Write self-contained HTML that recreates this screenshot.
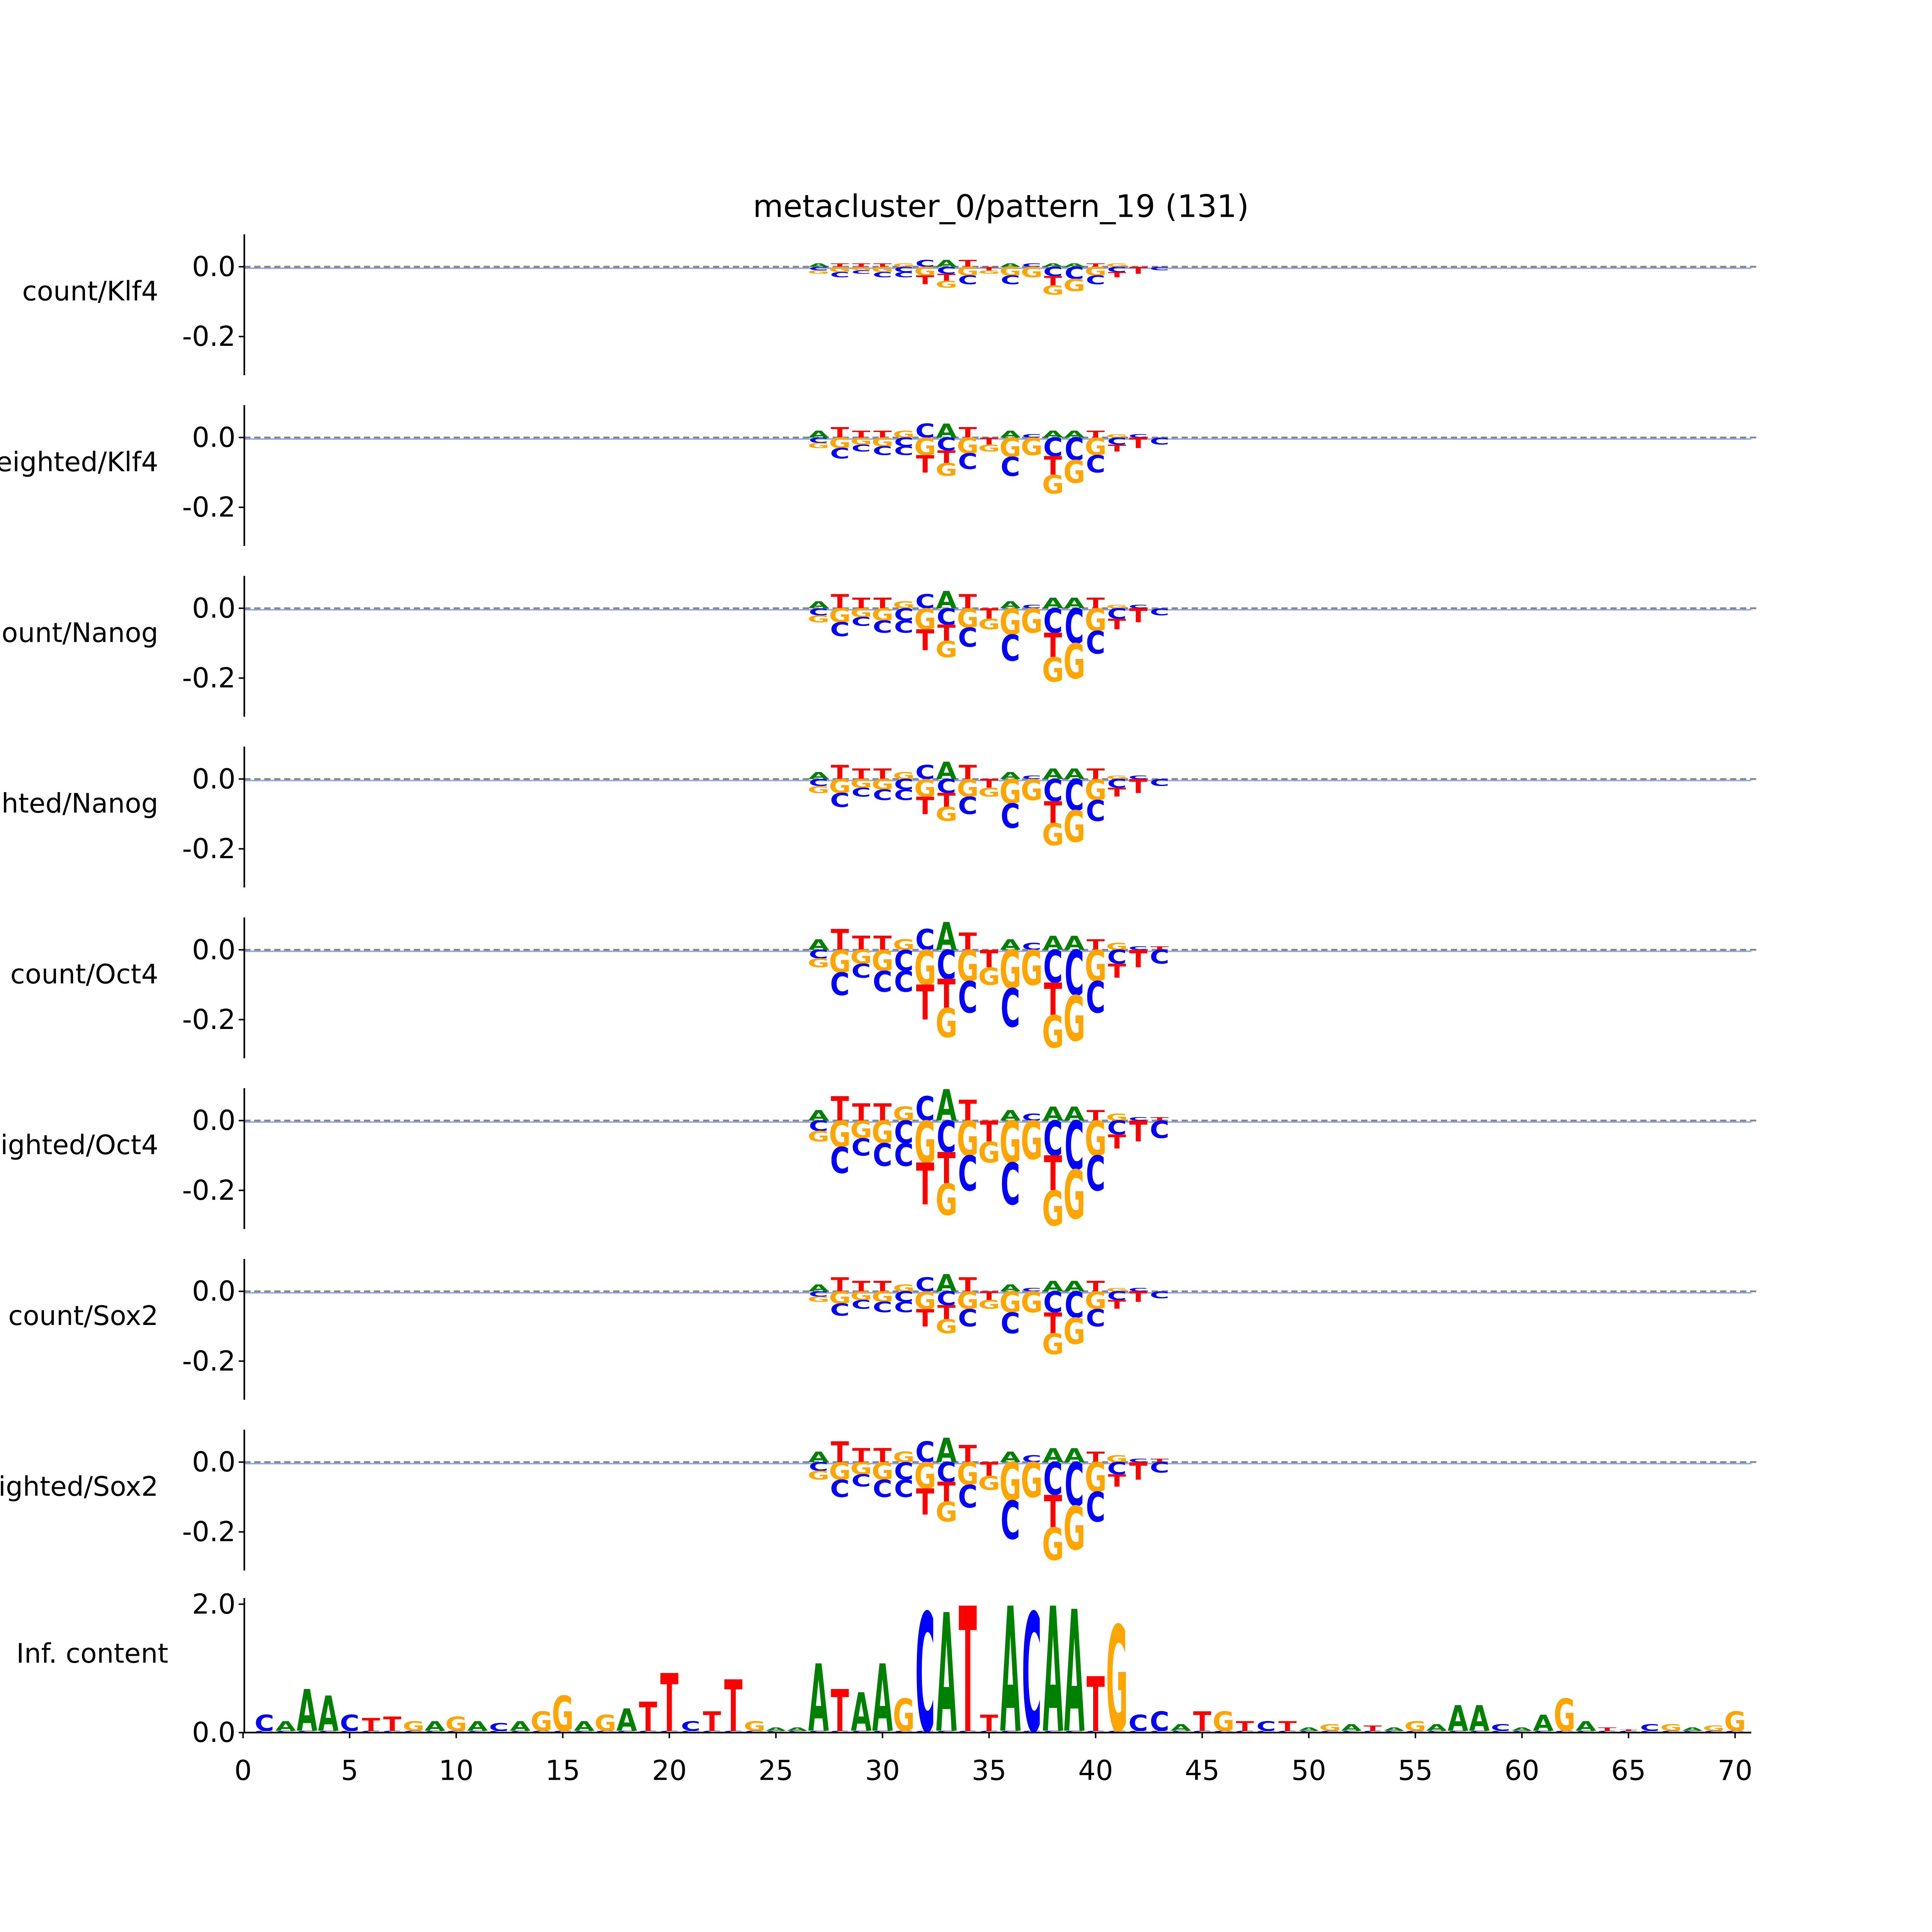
<!DOCTYPE html>
<html><head><meta charset="utf-8"><style>
html,body{margin:0;padding:0;background:#fff;overflow:hidden;width:100vw;height:100vh;}
svg{display:block;width:100vw;height:100vh;}
text{font-family:"DejaVu Sans","Liberation Sans",sans-serif;}
</style></head><body>
<svg id="chart" xmlns="http://www.w3.org/2000/svg" viewBox="0 0 1550 1550" preserveAspectRatio="none">
<rect x="0" y="0" width="1550" height="1550" fill="#fff"/>
<text x="803" y="174" font-size="25" text-anchor="middle">metacluster_0/pattern_19 (131)</text>
<g id="plots"></g>
</svg>
<script>
// ---- data ----
const panelNames = ["count/Klf4","weighted/Klf4","count/Nanog","weighted/Nanog","count/Oct4","weighted/Oct4","count/Sox2","weighted/Sox2"];
const corePositions = [27,28,29,30,31,32,33,34,35,36,37,38,39,40,41,42,43];
const upLetters   = ["A","T","T","T","G","C","A","T","C","A","C","A","A","T","G","C","T"];
const downLetters = [["C","G"],["G","C"],["G","C"],["G","C"],["C","C"],["G","T"],["C","T","G"],["G","C"],["T","G"],["G","C"],["G"],["C","T","G"],["C","G"],["G","C"],["C","T"],["T"],["C"]];
const upKlf4Count   = [0.01,0.01,0.01,0.01,0.01,0.02,0.02,0.02,0.0,0.01,0.01,0.01,0.01,0.01,0.01,0.0,0.0];
const downKlf4Count = [0.02,0.03,0.02,0.03,0.03,0.05,0.06,0.05,0.02,0.05,0.03,0.08,0.07,0.05,0.03,0.02,0.01];
const upKlf4W   = [0.02,0.03,0.02,0.02,0.02,0.04,0.04,0.03,0.0,0.02,0.01,0.02,0.02,0.02,0.01,0.01,0.0];
const downKlf4W = [0.03,0.06,0.04,0.05,0.05,0.1,0.11,0.09,0.04,0.11,0.05,0.16,0.13,0.1,0.04,0.03,0.02];
const upNanogCount   = [0.02,0.04,0.03,0.03,0.02,0.04,0.05,0.04,0.0,0.02,0.01,0.03,0.03,0.03,0.01,0.01,0.0];
const downNanogCount = [0.04,0.08,0.05,0.07,0.07,0.12,0.14,0.11,0.06,0.15,0.07,0.21,0.2,0.13,0.06,0.04,0.02];
const upNanogW   = [0.02,0.04,0.03,0.03,0.02,0.04,0.05,0.04,0.0,0.02,0.01,0.03,0.03,0.03,0.01,0.01,0.0];
const downNanogW = [0.04,0.08,0.05,0.06,0.06,0.1,0.12,0.1,0.05,0.14,0.06,0.19,0.18,0.12,0.05,0.04,0.02];
const upOct4Count   = [0.03,0.06,0.04,0.04,0.03,0.06,0.08,0.05,0.0,0.03,0.02,0.04,0.04,0.03,0.02,0.01,0.01];
const downOct4Count = [0.05,0.13,0.08,0.12,0.12,0.2,0.25,0.18,0.1,0.22,0.1,0.28,0.26,0.18,0.08,0.05,0.04];
const upOct4W   = [0.03,0.07,0.05,0.05,0.04,0.07,0.09,0.06,0.0,0.03,0.02,0.04,0.04,0.03,0.02,0.01,0.01];
const downOct4W = [0.06,0.15,0.1,0.13,0.13,0.24,0.27,0.2,0.12,0.24,0.11,0.3,0.28,0.2,0.08,0.06,0.05];
const upSox2Count   = [0.02,0.04,0.03,0.03,0.02,0.04,0.05,0.04,0.0,0.02,0.01,0.03,0.03,0.03,0.01,0.01,0.0];
const downSox2Count = [0.03,0.07,0.05,0.06,0.06,0.1,0.12,0.1,0.05,0.12,0.06,0.18,0.15,0.1,0.05,0.03,0.02];
const upSox2W   = [0.03,0.06,0.04,0.04,0.03,0.06,0.07,0.05,0.0,0.03,0.02,0.04,0.04,0.03,0.02,0.01,0.01];
const downSox2W = [0.05,0.1,0.07,0.1,0.1,0.15,0.17,0.13,0.08,0.22,0.1,0.28,0.25,0.17,0.07,0.05,0.03];
const upSeries = [upKlf4Count,upKlf4W,upNanogCount,upNanogW,upOct4Count,upOct4W,upSox2Count,upSox2W];
const downSeries = [downKlf4Count,downKlf4W,downNanogCount,downNanogW,downOct4Count,downOct4W,downSox2Count,downSox2W];
const contribTicks = [0.0,-0.2];
const contribTickLabels = ["0.0","-0.2"];
const icLetters = ["C","A","A","A","C","T","T","G","A","G","A","C","A","G","G","A","G","A","T","T","C","T","T","G","A","A","A","T","A","A","G","C","A","T","T","A","C","A","A","T","G","C","C","A","T","G","T","C","T","A","G","A","T","A","G","A","A","A","C","A","A","G","A","T","T","C","G","A","G","G"];
const icHeights = [0.25,0.15,0.65,0.55,0.25,0.2,0.22,0.15,0.15,0.22,0.15,0.12,0.15,0.3,0.55,0.15,0.25,0.35,0.45,0.9,0.15,0.3,0.8,0.15,0.05,0.05,1.05,0.65,0.6,1.05,0.5,1.85,1.85,1.95,0.25,1.95,1.85,1.95,1.9,0.85,1.65,0.25,0.3,0.1,0.3,0.3,0.15,0.15,0.15,0.05,0.1,0.1,0.08,0.05,0.15,0.1,0.4,0.4,0.1,0.05,0.25,0.5,0.15,0.05,0.02,0.1,0.1,0.05,0.08,0.3];
const icTicks = [0.0,2.0];
const icTickLabels = ["0.0","2.0"];
const xTicks = [0,5,10,15,20,25,30,35,40,45,50,55,60,65,70];

// ---- layout ----
const NS="http://www.w3.org/2000/svg";
const root=document.getElementById('plots');
const X0=195, XU=17.1;
const xs=v=>X0+v*XU;
const colors={A:"#008000",C:"#0000ff",G:"#ffa500",T:"#ff0000"};
function el(tag,attrs,parent){const e=document.createElementNS(NS,tag);for(const k in attrs)e.setAttribute(k,attrs[k]);(parent||root).appendChild(e);return e;}
function letter(ch,pos,yBottom,hpx,g){
  if(hpx<0.4)return;
  const w=XU*0.95;
  const t=el('text',{'font-size':10,'font-weight':'bold','text-anchor':'middle',fill:colors[ch],
    transform:`translate(${xs(pos)},${yBottom}) scale(${w/7.6},${hpx/7.3})`},g);
  
  
  t.textContent=ch;
}
const YU=280;
const TICK_FS=22, LABEL_FS=21.5;
panelNames.forEach((name,i)=>{
  const z=214+137*i;
  const g=el('g',{});
  
  
  const ys=v=>z-v*YU;
  const base=el('line',{x1:196,x2:1410,y1:z,y2:z,stroke:'#888','stroke-width':1.5,'stroke-dasharray':'5,3'},g);
  
  
  const noise=el('line',{x1:196,x2:1405,y1:z+1.2,y2:z+1.2,stroke:'#3050d0','stroke-width':1.2,opacity:0.5},g);
  
  
  const ups=upSeries[i], downs=downSeries[i];
  corePositions.forEach((p,j)=>{
    const uh=ups[j]*YU;
    letter(upLetters[j],p,ys(0),uh,g);
    const ls=downLetters[j]; const each=downs[j]*YU/ls.length;
    ls.forEach((ch,k)=>{letter(ch,p,ys(0)+each*(k+1),each,g);});
  });
  const sp=el('line',{x1:196,x2:196,y1:z-26,y2:z+87,stroke:'#000','stroke-width':1.3},g);
  
  
  contribTicks.forEach((v,k)=>{
    const tk=el('line',{x1:191.5,x2:196,y1:ys(v),y2:ys(v),stroke:'#000','stroke-width':1.2},g);
    
    
    const tl=el('text',{x:189,y:ys(v)+7.5,'font-size':TICK_FS,'text-anchor':'end'},g);
    
    
    tl.textContent=contribTickLabels[k];
  });
  const yl=el('text',{x:127,y:z+27,'font-size':LABEL_FS,'text-anchor':'end'},g);
  
  
  yl.textContent=name;
});
// IC panel
(function(){
  const z=1390, U=51.5;
  const g=el('g',{});
  
  
  const ys=v=>z-v*U;
  icLetters.forEach((ch,j)=>{
    const p=j+1;
    const small=0.05*U;
    letter('C',p,ys(0),small*0.6,g);
    letter(ch,p,ys(0)-small*0.6,icHeights[j]*U,g);
  });
  const sp=el('line',{x1:196,x2:196,y1:1282,y2:z,stroke:'#000','stroke-width':1.3},g);
  
  
  const xa=el('line',{x1:196,x2:1405,y1:z,y2:z,stroke:'#000','stroke-width':1.3},g);
  
  
  icTicks.forEach((v,k)=>{
    const tk=el('line',{x1:191.5,x2:196,y1:ys(v),y2:ys(v),stroke:'#000','stroke-width':1.2},g);
    
    
    const tl=el('text',{x:189,y:ys(v)+7.5,'font-size':TICK_FS,'text-anchor':'end'},g);
    
    
    tl.textContent=icTickLabels[k];
  });
  xTicks.forEach(v=>{
    const tk=el('line',{x1:xs(v),x2:xs(v),y1:z,y2:z+4.5,stroke:'#000','stroke-width':1.2},g);
    
    
    const tl=el('text',{x:xs(v),y:z+38,'font-size':TICK_FS,'text-anchor':'middle'},g);
    
    
    tl.textContent=String(v);
  });
  const yl=el('text',{x:135,y:1334,'font-size':LABEL_FS,'text-anchor':'end'},g);
  
  
  yl.textContent='Inf. content';
})();
</script>
</body></html>
